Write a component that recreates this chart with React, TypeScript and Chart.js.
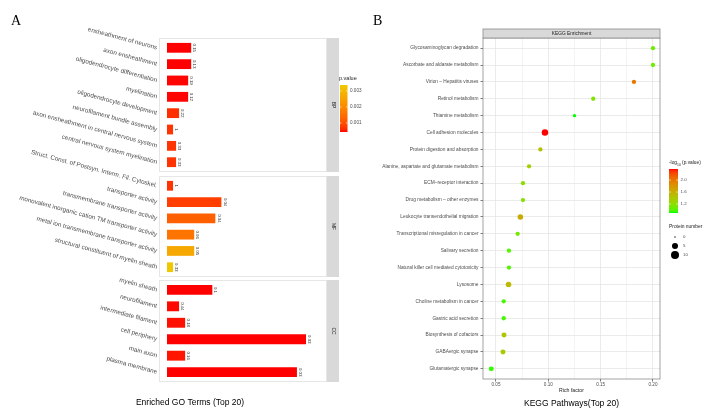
import React, { useEffect, useRef } from "react";
import { Chart, registerables } from "chart.js";

Chart.register(...registerables);

const W = 712;
const H = 417;
const SANS = '"Liberation Sans", Arial, Helvetica, sans-serif';
const SERIF = '"Liberation Serif", "Times New Roman", serif';

// ---------- Panel A: enriched GO terms, one facet per ontology ----------
const bpTerms = [
  "ensheathment of neurons",
  "axon ensheathment",
  "oligodendrocyte differentiation",
  "myelination",
  "oligodendrocyte development",
  "neurofilament bundle assembly",
  "axon ensheathment in central nervous system",
  "central nervous system myelination",
];
const bpCounts = [8, 8, 7, 7, 4, 2, 3, 3];
const bpRatios = ["0.15", "0.13", "0.19", "0.12", "0.22", "1", "0.33", "0.33"];
const bpPValues = [0.00044, 0.00044, 0.00045, 0.00045, 0.00066, 0.0007, 0.0007, 0.0007];

const mfTerms = [
  "Struct. Const. of Postsyn. Interm. Fil. Cytoskel.",
  "transporter activity",
  "transmembrane transporter activity",
  "monovalent inorganic cation TM transporter activity",
  "metal ion transmembrane transporter activity",
  "structural constituent of myelin sheath",
];
const mfCounts = [2, 18, 16, 9, 9, 2];
const mfRatios = ["1", "0.04", "0.04", "0.06", "0.05", "0.33"];
const mfPValues = [0.0007, 0.0008, 0.00126, 0.00161, 0.00264, 0.00337];

const ccTerms = [
  "myelin sheath",
  "neurofilament",
  "intermediate filament",
  "cell periphery",
  "main axon",
  "plasma membrane",
];
const ccCounts = [15, 4, 6, 46, 6, 43];
const ccRatios = ["0.1", "0.44", "0.18", "0.03", "0.16", "0.03"];
const ccPValues = [0.00044, 0.00046, 0.00048, 0.00044, 0.0005, 0.00044];

const pValueBreaks = [0.001, 0.002, 0.003];

// ---------- Panel B: KEGG pathway enrichment ----------
const keggPathways = [
  "Glycosaminoglycan degradation",
  "Ascorbate and aldarate metabolism",
  "Virion \u2013 Hepatitis viruses",
  "Retinol metabolism",
  "Thiamine metabolism",
  "Cell adhesion molecules",
  "Protein digestion and absorption",
  "Alanine, aspartate and glutamate metabolism",
  "ECM\u2013receptor interaction",
  "Drug metabolism \u2013 other enzymes",
  "Leukocyte transendothelial migration",
  "Transcriptional misregulation in cancer",
  "Salivary secretion",
  "Natural killer cell mediated cytotoxicity",
  "Lysosome",
  "Choline metabolism in cancer",
  "Gastric acid secretion",
  "Biosynthesis of cofactors",
  "GABAergic synapse",
  "Glutamatergic synapse",
];
const keggRichFactor = [
  0.2, 0.2, 0.1818, 0.1429, 0.125, 0.0968, 0.0924, 0.0816, 0.0758, 0.0758,
  0.0733, 0.0707, 0.0624, 0.0624, 0.062, 0.0574, 0.0574, 0.0577, 0.0567, 0.0455,
];
const keggProteinCount = [2, 2, 2, 2, 1, 6, 2, 2, 2, 2, 4, 2, 2, 2, 4, 2, 2, 3, 3, 3];
const keggNegLog10P = [
  1.08, 1.08, 2.0, 1.16, 0.9, 2.37, 1.46, 1.31, 1.19, 1.19,
  1.64, 1.1, 1.0, 1.0, 1.52, 0.97, 0.97, 1.42, 1.38, 0.94,
];
const negLogBreaks = [1.2, 1.6, 2.0];
const proteinNumberBreaks = [0, 5, 10];
const richFactorBreaks = [0.05, 0.1, 0.15, 0.2];

// ---------- layout of the facets (page pixels) ----------
const GO_LEFT = 159;
const GO_RIGHT = 327;
const GO_X_MIN = -2.65;
const GO_X_MAX = 52.95;
const FACETS = [
  { top: 38, bottom: 172 },
  { top: 176, bottom: 277 },
  { top: 280, bottom: 382 },
];
const KEGG = { left: 483, right: 660, top: 38, bottom: 379 };
const KEGG_X_MIN = 0.0376;
const KEGG_X_MAX = 0.2067;

// ---------- colour ramps interpolated in CIELAB ----------
type RGB = [number, number, number];
const hexToRgb = (h: string): RGB => [
  parseInt(h.slice(1, 3), 16),
  parseInt(h.slice(3, 5), 16),
  parseInt(h.slice(5, 7), 16),
];
const toLin = (c: number) => {
  const v = c / 255;
  return v <= 0.04045 ? v / 12.92 : Math.pow((v + 0.055) / 1.055, 2.4);
};
const fromLin = (c: number) => {
  const v = c <= 0.0031308 ? 12.92 * c : 1.055 * Math.pow(c, 1 / 2.4) - 0.055;
  return Math.round(Math.max(0, Math.min(1, v)) * 255);
};
const WX = 0.95047, WY = 1.0, WZ = 1.08883;
const labF = (t: number) => (t > 216 / 24389 ? Math.cbrt(t) : ((24389 / 27) * t + 16) / 116);
const labFi = (t: number) => (t * t * t > 216 / 24389 ? t * t * t : (116 * t - 16) / (24389 / 27));
function rgbToLab([r, g, b]: RGB): RGB {
  const R = toLin(r), G = toLin(g), B = toLin(b);
  const X = (0.4124 * R + 0.3576 * G + 0.1805 * B) / WX;
  const Y = (0.2126 * R + 0.7152 * G + 0.0722 * B) / WY;
  const Z = (0.0193 * R + 0.1192 * G + 0.9505 * B) / WZ;
  const fx = labF(X), fy = labF(Y), fz = labF(Z);
  return [116 * fy - 16, 500 * (fx - fy), 200 * (fy - fz)];
}
function labToRgb([L, a, b]: RGB): RGB {
  const fy = (L + 16) / 116, fx = fy + a / 500, fz = fy - b / 200;
  const X = labFi(fx) * WX, Y = labFi(fy) * WY, Z = labFi(fz) * WZ;
  const R = 3.2406 * X - 1.5372 * Y - 0.4986 * Z;
  const G = -0.9689 * X + 1.8758 * Y + 0.0415 * Z;
  const B = 0.0557 * X - 0.204 * Y + 1.057 * Z;
  return [fromLin(R), fromLin(G), fromLin(B)];
}
function labRamp(low: string, high: string) {
  const a = rgbToLab(hexToRgb(low));
  const b = rgbToLab(hexToRgb(high));
  return (t: number) => {
    const u = Math.max(0, Math.min(1, t));
    const c = labToRgb([a[0] + (b[0] - a[0]) * u, a[1] + (b[1] - a[1]) * u, a[2] + (b[2] - a[2]) * u]);
    return `rgb(${c[0]},${c[1]},${c[2]})`;
  };
}

const allP = [...bpPValues, ...mfPValues, ...ccPValues];
const P_MIN = Math.min(...allP);
const P_MAX = Math.max(...allP);
const pRamp = labRamp("#FF0000", "#EEC900");
const pColor = (p: number) => pRamp((p - P_MIN) / (P_MAX - P_MIN));

const NL_MIN = Math.min(...keggNegLog10P);
const NL_MAX = Math.max(...keggNegLog10P);
const nlRamp = labRamp("#00FF00", "#FF0000");
const nlColor = (v: number) => nlRamp((v - NL_MIN) / (NL_MAX - NL_MIN));

// point size: area scale on 0..10 proteins, diameter 1..6 units
const SIZE_LIMIT = 10;
const pointRadius = (n: number) => ((1 + 5 * Math.sqrt(n / SIZE_LIMIT)) * (8 / 6)) / 2;

// ---------- drawing helpers ----------
function drawText(
  ctx: CanvasRenderingContext2D,
  s: string,
  x: number,
  y: number,
  size: number,
  opt: { color?: string; align?: CanvasTextAlign; baseline?: CanvasTextBaseline; rotate?: number; family?: string } = {}
) {
  ctx.save();
  ctx.font = `${size}px ${opt.family || SANS}`;
  ctx.fillStyle = opt.color || "#1A1A1A";
  ctx.textAlign = opt.align || "left";
  ctx.textBaseline = opt.baseline || "middle";
  ctx.translate(x, y);
  if (opt.rotate) ctx.rotate(opt.rotate);
  ctx.fillText(s, 0, 0);
  ctx.restore();
}

function drawColorbar(
  ctx: CanvasRenderingContext2D,
  x: number,
  top: number,
  w: number,
  h: number,
  ramp: (t: number) => string
) {
  const g = ctx.createLinearGradient(0, top + h, 0, top);
  for (let i = 0; i <= 24; i++) g.addColorStop(i / 24, ramp(i / 24));
  ctx.fillStyle = g;
  ctx.fillRect(x, top, w, h);
}

function colorbarTicks(
  ctx: CanvasRenderingContext2D,
  x: number,
  w: number,
  ys: number[]
) {
  ctx.save();
  ctx.strokeStyle = "#FFFFFF";
  ctx.lineWidth = 0.6;
  ys.forEach((y) => {
    ctx.beginPath();
    ctx.moveTo(x, y);
    ctx.lineTo(x + w * 0.2, y);
    ctx.moveTo(x + w * 0.8, y);
    ctx.lineTo(x + w, y);
    ctx.stroke();
  });
  ctx.restore();
}

// ---------- GO facet chart ----------
function goFacetPlugin(strip: string, ratios: string[]) {
  return {
    id: "goFacet",
    beforeDraw(chart: any) {
      const { ctx, chartArea: a } = chart;
      ctx.save();
      ctx.fillStyle = "#FFFFFF";
      ctx.fillRect(a.left, a.top, a.right - a.left, a.bottom - a.top);
      ctx.strokeStyle = "#E6E6E6";
      ctx.lineWidth = 1;
      ctx.strokeRect(a.left + 0.5, a.top + 0.5, a.right - a.left - 1, a.bottom - a.top - 1);
      ctx.fillStyle = "#D9D9D9";
      ctx.fillRect(a.right, a.top, 12, a.bottom - a.top);
      ctx.restore();
      drawText(ctx, strip, a.right + 6, (a.top + a.bottom) / 2, 5, {
        align: "center",
        rotate: Math.PI / 2,
        color: "#1A1A1A",
      });
    },
    afterDatasetsDraw(chart: any) {
      const { ctx } = chart;
      const meta = chart.getDatasetMeta(0);
      meta.data.forEach((el: any, i: number) => {
        drawText(ctx, ratios[i], el.x + 1.2, el.y, 4.3, {
          align: "center",
          baseline: "bottom",
          rotate: Math.PI / 2,
          color: "#333333",
        });
      });
    },
  };
}

function goConfig(
  terms: string[],
  counts: number[],
  pvals: number[],
  ratios: string[],
  facet: { top: number; bottom: number },
  strip: string,
  extra: any[] = []
): any {
  return {
    type: "bar",
    data: {
      labels: terms,
      datasets: [
        {
          data: counts,
          backgroundColor: pvals.map(pColor),
          borderWidth: 0,
          barPercentage: 0.6,
          categoryPercentage: 1,
        },
      ],
    },
    options: {
      animation: false,
      responsive: false,
      devicePixelRatio: 1,
      indexAxis: "y",
      events: [],
      layout: {
        padding: { left: 0, top: facet.top, right: W - GO_RIGHT, bottom: H - facet.bottom },
      },
      plugins: { legend: { display: false }, tooltip: { enabled: false }, title: { display: false } },
      scales: {
        x: { type: "linear", display: false, min: GO_X_MIN, max: GO_X_MAX },
        y: {
          type: "category",
          grid: { display: false, drawTicks: false },
          border: { display: false },
          ticks: {
            autoSkip: false,
            minRotation: -15,
            maxRotation: -15,
            padding: 2,
            color: "#4D4D4D",
            font: { family: SANS, size: 6.3 },
          },
          afterFit: (s: any) => {
            s.width = GO_LEFT;
          },
          afterBuildTicks: (s: any) => {
            s._startValue = -0.6;
            s._valueRange = terms.length + 0.2;
          },
        },
      },
    },
    plugins: [goFacetPlugin(strip, ratios), ...extra],
  };
}

const goDecorPlugin = {
  id: "goDecor",
  afterDraw(chart: any) {
    const { ctx } = chart;
    drawText(ctx, "A", 11, 21, 14, { family: SERIF, color: "#000000" });
    drawText(ctx, "Enriched GO Terms (Top 20)", 190, 403, 8.5, { align: "center", color: "#000000" });
    // p.value colour bar
    const bx = 340, bt = 85, bw = 7.5, bh = 47;
    drawText(ctx, "p.value", 339, 78, 5.5, { color: "#1A1A1A" });
    drawColorbar(ctx, bx, bt, bw, bh, pRamp);
    const ys = pValueBreaks.map((p) => bt + bh - ((p - P_MIN) / (P_MAX - P_MIN)) * bh);
    colorbarTicks(ctx, bx, bw, ys);
    pValueBreaks.forEach((p, i) =>
      drawText(ctx, p.toFixed(3), bx + bw + 2.5, ys[i], 4.6, { color: "#4D4D4D" })
    );
  },
};

// ---------- KEGG bubble chart ----------
const keggDecorPlugin = {
  id: "keggDecor",
  afterDraw(chart: any) {
    const { ctx, chartArea: a } = chart;
    ctx.save();
    ctx.strokeStyle = "#8C8C8C";
    ctx.lineWidth = 0.8;
    ctx.strokeRect(a.left, a.top, a.right - a.left, a.bottom - a.top);
    // strip
    ctx.fillStyle = "#D9D9D9";
    ctx.fillRect(a.left, a.top - 9, a.right - a.left, 9);
    ctx.strokeRect(a.left, a.top - 9, a.right - a.left, 9);
    ctx.restore();
    const cx = (a.left + a.right) / 2;
    drawText(ctx, "KEGG Enrichment", cx, a.top - 4.5, 4.8, { align: "center", color: "#1A1A1A" });
    drawText(ctx, "Rich factor", cx, 390.5, 5.2, { align: "center", color: "#1A1A1A" });
    drawText(ctx, "KEGG Pathways(Top 20)", cx, 404, 8.5, { align: "center", color: "#000000" });
    drawText(ctx, "B", 373, 21, 14, { family: SERIF, color: "#000000" });

    // -log10(p.value) colour bar
    const lx = 669;
    ctx.save();
    ctx.font = `4.8px ${SANS}`;
    ctx.fillStyle = "#1A1A1A";
    ctx.textBaseline = "middle";
    let tx = lx;
    ctx.fillText("-log", tx, 163);
    tx += ctx.measureText("-log").width;
    ctx.font = `3.4px ${SANS}`;
    ctx.fillText("10", tx, 164.6);
    tx += ctx.measureText("10").width;
    ctx.font = `4.8px ${SANS}`;
    ctx.fillText(" (p.value)", tx, 163);
    ctx.restore();
    const bt = 169, bw = 9, bh = 44;
    drawColorbar(ctx, lx, bt, bw, bh, nlRamp);
    const ys = negLogBreaks.map((v) => bt + bh - ((v - NL_MIN) / (NL_MAX - NL_MIN)) * bh);
    colorbarTicks(ctx, lx, bw, ys);
    negLogBreaks.forEach((v, i) => drawText(ctx, v.toFixed(1), lx + bw + 2.5, ys[i], 4.4, { color: "#4D4D4D" }));

    // protein number legend
    drawText(ctx, "Protein number", lx, 227, 4.9, { color: "#1A1A1A" });
    proteinNumberBreaks.forEach((n, i) => {
      const y = 237 + i * 9;
      ctx.save();
      ctx.fillStyle = "#000000";
      ctx.beginPath();
      ctx.arc(lx + 6, y, pointRadius(n), 0, Math.PI * 2);
      ctx.fill();
      ctx.restore();
      drawText(ctx, String(n), lx + 14, y, 4.4, { color: "#4D4D4D" });
    });
  },
};

function keggConfig(): any {
  const isMajor = (v: number) => richFactorBreaks.some((b) => Math.abs(b - v) < 1e-6);
  return {
    type: "scatter",
    data: {
      datasets: [
        {
          data: keggPathways.map((p, i) => ({ x: keggRichFactor[i], y: p })),
          pointBackgroundColor: keggNegLog10P.map(nlColor),
          pointBorderWidth: 0,
          pointRadius: keggProteinCount.map(pointRadius),
          pointHoverRadius: keggProteinCount.map(pointRadius),
          clip: false,
        },
      ],
    },
    options: {
      animation: false,
      responsive: false,
      devicePixelRatio: 1,
      events: [],
      layout: { padding: { left: 0, top: KEGG.top, right: W - KEGG.right, bottom: H - KEGG.bottom - 16 } },
      plugins: { legend: { display: false }, tooltip: { enabled: false }, title: { display: false } },
      scales: {
        x: {
          type: "linear",
          min: KEGG_X_MIN,
          max: KEGG_X_MAX,
          border: { display: false },
          grid: {
            color: (c: any) => (c.tick && isMajor(c.tick.value) ? "#E6E6E6" : "#F1F1F1"),
            lineWidth: 0.8,
            tickLength: 2.5,
            tickColor: (c: any) => (c.tick && isMajor(c.tick.value) ? "#555555" : "rgba(0,0,0,0)"),
          },
          ticks: {
            stepSize: 0.025,
            includeBounds: false,
            autoSkip: false,
            maxRotation: 0,
            padding: 0,
            color: "#4D4D4D",
            font: { family: SANS, size: 4.6 },
            callback: (v: any) => (isMajor(Number(v)) ? Number(v).toFixed(2) : ""),
          },
          afterFit: (s: any) => {
            s.height = 16;
          },
        },
        y: {
          type: "category",
          labels: keggPathways,
          border: { display: false },
          grid: { color: "#E6E6E6", lineWidth: 0.8, tickLength: 2.5, tickColor: "#555555" },
          ticks: {
            autoSkip: false,
            padding: 2,
            color: "#4D4D4D",
            font: { family: SANS, size: 4.8 },
          },
          afterFit: (s: any) => {
            s.width = KEGG.left;
          },
          afterBuildTicks: (s: any) => {
            s._startValue = -0.6;
            s._valueRange = keggPathways.length + 0.2;
          },
        },
      },
    },
    plugins: [keggDecorPlugin],
  };
}

export default function App() {
  const bpRef = useRef<HTMLCanvasElement>(null);
  const mfRef = useRef<HTMLCanvasElement>(null);
  const ccRef = useRef<HTMLCanvasElement>(null);
  const keggRef = useRef<HTMLCanvasElement>(null);

  useEffect(() => {
    const charts = [
      new Chart(bpRef.current!, goConfig(bpTerms, bpCounts, bpPValues, bpRatios, FACETS[0], "BP", [goDecorPlugin])),
      new Chart(mfRef.current!, goConfig(mfTerms, mfCounts, mfPValues, mfRatios, FACETS[1], "MF")),
      new Chart(ccRef.current!, goConfig(ccTerms, ccCounts, ccPValues, ccRatios, FACETS[2], "CC")),
      new Chart(keggRef.current!, keggConfig()),
    ];
    return () => charts.forEach((c) => c.destroy());
  }, []);

  const cs: React.CSSProperties = { position: "absolute", left: 0, top: 0, width: W, height: H };
  return (
    <div style={{ position: "fixed", left: 0, top: 0, width: W, height: H, background: "#FFFFFF", overflow: "hidden" }}>
      <canvas ref={bpRef} width={W} height={H} style={cs} />
      <canvas ref={mfRef} width={W} height={H} style={cs} />
      <canvas ref={ccRef} width={W} height={H} style={cs} />
      <canvas ref={keggRef} width={W} height={H} style={cs} />
    </div>
  );
}
